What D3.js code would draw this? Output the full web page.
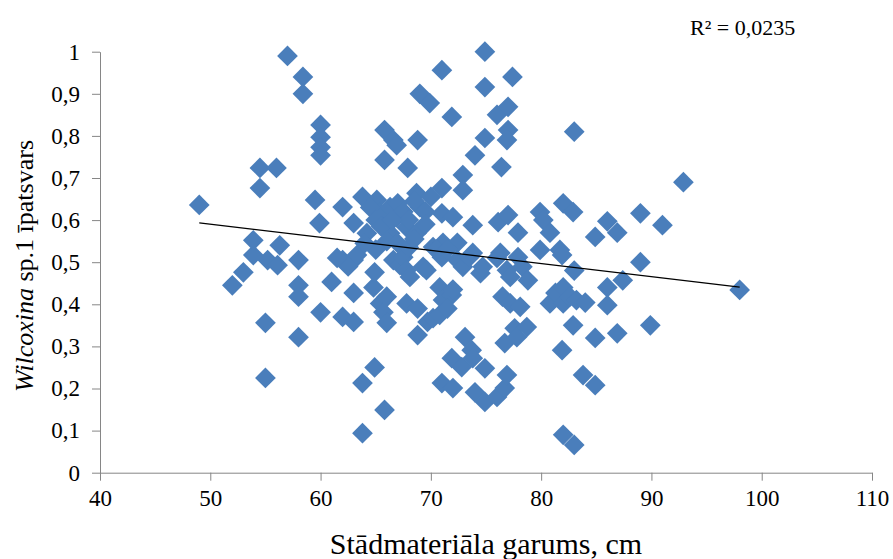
<!DOCTYPE html>
<html>
<head>
<meta charset="utf-8">
<script src="https://cdn.jsdelivr.net/npm/d3@7"></script>
<style>
  body { margin: 0; background: #fff; }
  svg { display: block; }
  svg text { font-family: "Liberation Serif", "Times New Roman", "DejaVu Serif", serif; fill: #000; }
  .axis path, .axis line { stroke: #868686; }
  .axis text { font-size: 23px; }
</style>
</head>
<body>
<div class="chart"></div>
<script>
(function() {

    // Stādmateriāla garums, cm
    var lengths = [
        49, 52, 53, 53.9, 53.9, 54.5, 54.5, 55, 55, 55.2,
        56, 56.1, 56.3, 57, 58, 58, 58, 58, 58.4, 58.4,
        59.5, 59.9, 60, 60, 60, 60, 60, 61, 62, 62,
        62, 63, 63, 63, 63, 63.3, 63.8, 63.8, 63.8, 64.2,
        64.8, 64.9, 64.9, 65.1, 65.4, 65.4, 65.7, 65.8, 65.8, 65.8,
        66, 66, 66.3, 66.3, 66.6, 66.6, 66.9, 66.9, 67.2, 67.5,
        67.8, 67.8, 67.8, 67.9, 68.1, 68.7, 68.7, 68.8, 68.8, 68.8,
        69, 69, 69.3, 69.6, 69.7, 69.9, 70.2, 70.2, 70.8, 70.8,
        71, 71, 71, 71, 71, 71.1, 71.1, 71.9, 71.9, 71.9,
        72, 72, 72.4, 72.4, 72.8, 72.9, 72.9, 72.9, 73.1, 73.5,
        73.7, 73.8, 73.8, 73.8, 74, 74, 74.5, 74.7, 74.9, 74.9,
        74.9, 74.9, 74.9, 76, 76, 76, 76.1, 76.3, 76.4, 76.5,
        76.7, 76.7, 76.9, 76.9, 77, 77, 76.9, 77, 77.2, 77.2,
        77.4, 77.6, 77.8, 77.9, 77.9, 78.1, 78.3, 78.7, 78.8, 79.9,
        80.2, 79.9, 80.8, 80.8, 81.3, 81.7, 81.9, 81.9, 82, 82,
        82, 82, 82.6, 82.9, 82.9, 83, 83, 83, 83.2, 84,
        83.8, 84.9, 84.9, 84.9, 86, 86.9, 86, 86, 86.9, 87.4,
        89, 89, 89.9, 91, 92.9, 98,
        64.5, 65, 65.5, 66, 67, 67.5, 68, 68.5, 69.5, 69.5,
        70, 67, 68, 65, 64, 66.5, 68.5, 62.5, 61.5, 70.5,
        71.5, 72, 71.5
    ];

    // Wilcoxina sp.1 īpatsvars
    var shares = [
        0.636, 0.445, 0.476, 0.517, 0.552, 0.724, 0.676, 0.356, 0.225, 0.505,
        0.724, 0.493, 0.54, 0.99, 0.505, 0.445, 0.418, 0.322, 0.94, 0.90,
        0.648, 0.593, 0.826, 0.797, 0.773, 0.754, 0.381, 0.453, 0.631, 0.505,
        0.370, 0.593, 0.505, 0.358, 0.427, 0.517, 0.655, 0.213, 0.094, 0.569,
        0.44, 0.476, 0.25, 0.648, 0.617, 0.402, 0.381, 0.814, 0.743, 0.149,
        0.418, 0.356, 0.631, 0.569, 0.79, 0.505, 0.607, 0.778, 0.493, 0.512,
        0.583, 0.481, 0.402, 0.724, 0.465, 0.664, 0.569, 0.79, 0.39, 0.327,
        0.90, 0.631, 0.489, 0.481, 0.358, 0.878, 0.536, 0.367, 0.44, 0.375,
        0.956, 0.676, 0.616, 0.512, 0.213, 0.41, 0.546, 0.845, 0.422, 0.272,
        0.607, 0.201, 0.546, 0.505, 0.251, 0.707, 0.671, 0.489, 0.322, 0.512,
        0.291, 0.272, 0.588, 0.522, 0.754, 0.191, 0.474, 0.489, 1.0, 0.916,
        0.795, 0.248, 0.168, 0.85, 0.51, 0.18, 0.595, 0.522, 0.726, 0.418,
        0.308, 0.201, 0.232, 0.481, 0.869, 0.814, 0.79, 0.612, 0.465, 0.402,
        0.94, 0.343, 0.322, 0.57, 0.512, 0.394, 0.489, 0.346, 0.457, 0.619,
        0.6, 0.529, 0.57, 0.402, 0.427, 0.529, 0.517, 0.291, 0.64, 0.44,
        0.402, 0.09, 0.418, 0.619, 0.35, 0.81, 0.48, 0.066, 0.41, 0.404,
        0.232, 0.56, 0.32, 0.208, 0.597, 0.57, 0.44, 0.398, 0.331, 0.457,
        0.616, 0.5, 0.35, 0.588, 0.69, 0.434,
        0.63, 0.60, 0.585, 0.55, 0.64, 0.62, 0.60, 0.645, 0.62, 0.59,
        0.655, 0.545, 0.535, 0.53, 0.545, 0.6, 0.555, 0.49, 0.51, 0.53,
        0.53, 0.435, 0.39
    ];

    var xTicks = [40, 50, 60, 70, 80, 90, 100, 110];
    var yTicks = [0, 0.1, 0.2, 0.3, 0.4, 0.5, 0.6, 0.7, 0.8, 0.9, 1];

    // linear trendline, as shown in the source chart
    var trendCoef = [0.7465, -0.00312];
    var rSquared = '0,0235';

    var svgSize = { w: 893, h: 559 };
    var plot = { left: 100, right: 872, top: 51.7, bottom: 472.7 };

    var svg = d3.select('.chart')
        .append('svg')
        .attr('width', svgSize.w)
        .attr('height', svgSize.h);

    var x = d3.scaleLinear().domain([40, 110]).range([plot.left, plot.right]);
    var y = d3.scaleLinear().domain([0, 1]).range([plot.bottom, plot.top]);

    var comma = function(d) {
        return String(d).replace('.', ',');
    };

    svg.append('g')
        .attr('class', 'axis')
        .attr('transform', 'translate(0,' + plot.bottom + ')')
        .call(d3.axisBottom(x).tickValues(xTicks).tickSize(8).tickPadding(9).tickSizeOuter(0))
        .call(function(g) { g.selectAll('text').attr('dy', '0.71em'); });

    svg.append('g')
        .attr('class', 'axis')
        .attr('transform', 'translate(' + plot.left + ',0)')
        .call(d3.axisLeft(y).tickValues(yTicks).tickFormat(comma).tickSize(8).tickPadding(12).tickSizeOuter(0));

    svg.selectAll('.axis').attr('font-family', null).attr('font-size', null);

    var points = lengths.map(function(v, i) {
        return { x: v, y: shares[i] };
    });

    var diamond = d3.symbol().type(d3.symbolSquare).size(215);

    svg.append('g')
        .selectAll('path')
        .data(points)
        .enter()
        .append('path')
        .attr('d', diamond)
        .attr('fill', '#4a7ebb')
        .attr('transform', function(d) {
            return 'translate(' + x(d.x) + ',' + y(d.y) + ') rotate(45)';
        });

    var ext = d3.extent(lengths);
    var trend = ext.map(function(v) {
        return { x: v, y: trendCoef[0] + trendCoef[1] * v };
    });

    svg.append('path')
        .datum(trend)
        .attr('fill', 'none')
        .attr('stroke', '#000')
        .attr('stroke-width', 1.3)
        .attr('d', d3.line().x(function(d) { return x(d.x); }).y(function(d) { return y(d.y); }));

    svg.append('text')
        .attr('x', 690)
        .attr('y', 35)
        .attr('font-size', 22)
        .text('R² = ' + rSquared);

    svg.append('text')
        .attr('x', (plot.left + plot.right) / 2)
        .attr('y', 554)
        .attr('text-anchor', 'middle')
        .attr('font-size', 30)
        .text('Stādmateriāla garums, cm');

    var yTitle = svg.append('text')
        .attr('transform', 'translate(33,266) rotate(-90)')
        .attr('text-anchor', 'middle')
        .attr('font-size', 26);
    yTitle.append('tspan').attr('font-style', 'italic').text('Wilcoxina');
    yTitle.append('tspan').text(' sp.1 īpatsvars');

})();
</script>
</body>
</html>
